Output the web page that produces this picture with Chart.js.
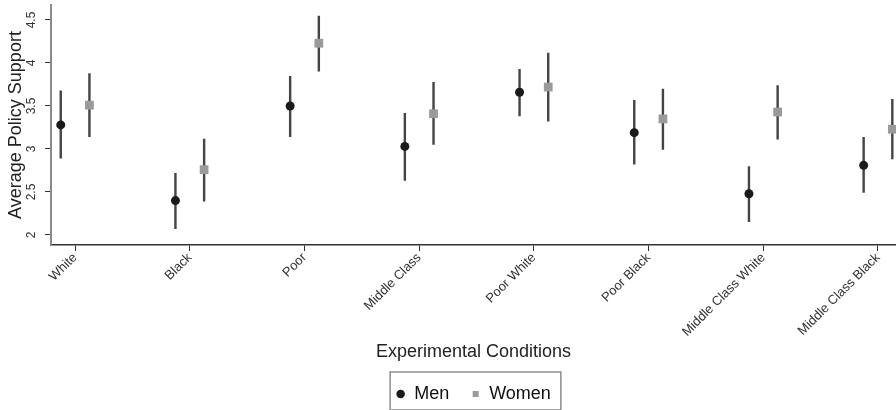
<!DOCTYPE html>
<html>
<head>
<meta charset="utf-8">
<script src="https://cdn.jsdelivr.net/npm/chart.js@4/dist/chart.umd.min.js"></script>
<style>
  html, body { margin: 0; padding: 0; background: #fff; }
  #wrap { width: 896px; height: 410px; }
</style>
</head>
<body>
<div id="wrap"><canvas id="policyChart"></canvas></div>
<script>
// conditions on the x axis, in order
const conditions = ['White', 'Black', 'Poor', 'Middle Class', 'Poor White', 'Poor Black', 'Middle Class White', 'Middle Class Black'];

// means and 95% CI ends
const menMean  = [3.28, 2.40, 3.50, 3.03, 3.66, 3.19, 2.48, 2.81];
const menLow   = [2.89, 2.07, 3.14, 2.63, 3.38, 2.82, 2.15, 2.49];
const menHigh  = [3.68, 2.72, 3.85, 3.42, 3.93, 3.57, 2.80, 3.14];

const womenMean = [3.51, 2.76, 4.23, 3.41, 3.72, 3.35, 3.43, 3.23];
const womenLow  = [3.14, 2.39, 3.90, 3.05, 3.32, 2.99, 3.11, 2.88];
const womenHigh = [3.88, 3.12, 4.55, 3.78, 4.12, 3.70, 3.74, 3.58];

const yTicks = [2, 2.5, 3, 3.5, 4, 4.5];

const FONT = "'Liberation Sans', Arial, Helvetica, sans-serif";
const SHIFT = 0.125; // men left of the category, women right

function points(means, shift) {
  return means.map((m, i) => ({ x: i + 1 + shift, y: m }));
}

// one line dataset for all bars, broken by null rows
function whiskers(lows, highs, shift) {
  const out = [];
  lows.forEach((lo, i) => {
    out.push({ x: i + 1 + shift, y: lo });
    out.push({ x: i + 1 + shift, y: highs[i] });
    out.push({ x: i + 1 + shift, y: null });
  });
  return out;
}

// box around the legend like the original
const legendFrame = {
  id: 'legendFrame',
  afterDraw(chart) {
    const boxes = chart.legend.legendHitBoxes;
    if (!boxes || !boxes.length) return;
    const first = boxes[0];
    const last = boxes[boxes.length - 1];
    const cy = first.top + first.height / 2;
    const ctx = chart.ctx;
    ctx.save();
    ctx.strokeStyle = '#8c8c8c';
    ctx.lineWidth = 1.5;
    ctx.strokeRect(first.left - 6, cy - 22, (last.left + last.width + 10) - (first.left - 6), 38);
    ctx.restore();
  }
};

const ctx = document.getElementById('policyChart').getContext('2d');

new Chart(ctx, {
  type: 'scatter',
  data: {
    datasets: [
      {
        label: 'Men',
        data: points(menMean, -SHIFT),
        pointStyle: 'circle',
        pointRadius: 4.5,
        backgroundColor: '#1a1a1a',
        borderColor: '#1a1a1a',
        borderWidth: 0,
        order: 0,
        clip: false
      },
      {
        label: 'Women',
        data: points(womenMean, SHIFT),
        pointStyle: 'rect',
        pointRadius: 6.2,
        backgroundColor: '#9a9a9a',
        borderColor: '#9a9a9a',
        borderWidth: 0,
        order: 0,
        clip: false
      },
      {
        label: 'menCI',
        data: whiskers(menLow, menHigh, -SHIFT),
        showLine: true,
        spanGaps: false,
        pointRadius: 0,
        borderColor: '#444',
        borderWidth: 2.4,
        order: 1,
        clip: false
      },
      {
        label: 'womenCI',
        data: whiskers(womenLow, womenHigh, SHIFT),
        showLine: true,
        spanGaps: false,
        pointRadius: 0,
        borderColor: '#444',
        borderWidth: 2.4,
        order: 1,
        clip: false
      }
    ]
  },
  options: {
    responsive: true,
    maintainAspectRatio: false,
    animation: false,
    layout: {
      autoPadding: false,
      padding: { top: 5, left: 0, right: 0, bottom: -3 }
    },
    plugins: {
      tooltip: { enabled: false },
      legend: {
        position: 'bottom',
        fullSize: false,
        labels: {
          usePointStyle: true,
          boxWidth: 9,
          boxHeight: 6,
          padding: 22,
          color: '#111',
          font: { family: FONT, size: 18 },
          filter: item => item.text === 'Men' || item.text === 'Women'
        }
      }
    },
    scales: {
      x: {
        type: 'linear',
        min: 0.79,
        max: 8.157,
        afterBuildTicks: s => { s.ticks = conditions.map((c, i) => ({ value: i + 1 })); },
        afterFit: s => { s.height = 118; s.paddingLeft = 0; s.paddingRight = 0; },
        ticks: {
          autoSkip: false,
          minRotation: 45,
          maxRotation: 45,
          padding: -1,
          color: '#333',
          font: { family: FONT, size: 13 },
          callback: v => conditions[v - 1]
        },
        grid: { display: true, drawOnChartArea: false, tickLength: 6, color: '#333', lineWidth: 1 },
        border: { display: true, color: '#333', width: 1.5 },
        title: {
          display: true,
          text: 'Experimental Conditions',
          color: '#222',
          font: { family: FONT, size: 18 },
          padding: { top: 0, bottom: 0 }
        }
      },
      y: {
        min: 1.8837,
        max: 4.6744,
        afterBuildTicks: s => { s.ticks = yTicks.map(v => ({ value: v })); },
        afterFit: s => { s.width = 51; s.paddingTop = 0; s.paddingBottom = 0; },
        ticks: {
          minRotation: 90,
          maxRotation: 90,
          crossAlign: 'center',
          padding: 5,
          color: '#333',
          font: { family: FONT, size: 12 },
          callback: v => String(v)
        },
        grid: { display: true, drawOnChartArea: false, tickLength: 6, color: '#333', lineWidth: 1 },
        border: { display: true, color: '#8a8a8a', width: 2 },
        title: {
          display: true,
          text: 'Average Policy Support',
          color: '#222',
          font: { family: FONT, size: 18 },
          padding: { top: 5, bottom: 0 }
        }
      }
    }
  },
  plugins: [legendFrame]
});
</script>
</body>
</html>
